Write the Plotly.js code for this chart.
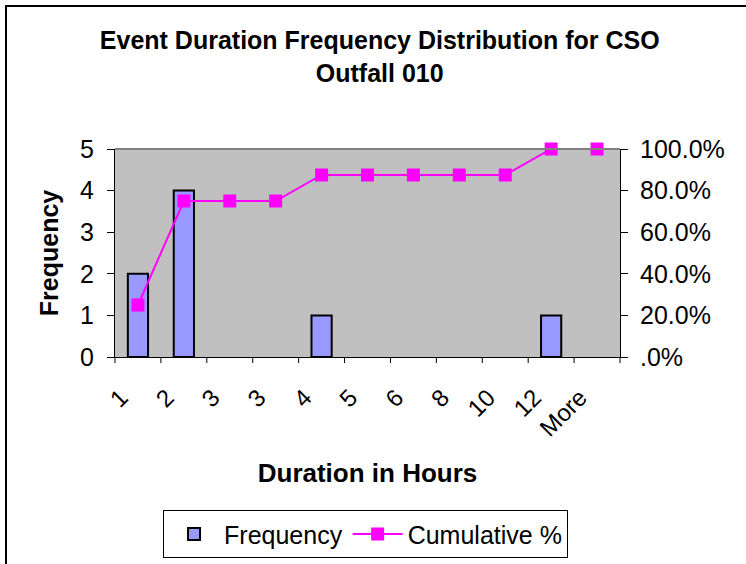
<!DOCTYPE html>
<html><head><meta charset="utf-8">
<script src="https://cdn.plot.ly/plotly-3.0.1.min.js"></script>
<style>
html,body{margin:0;padding:0;background:#fff;}
#wrap{position:relative;width:746px;height:564px;overflow:hidden;}
#chart{position:absolute;left:0;top:0;width:746px;height:564px;}
#frame{position:absolute;left:5px;top:5px;width:760px;height:600px;border-top:2px solid #000;border-left:2px solid #000;pointer-events:none;}
</style></head>
<body><div id="wrap"><div id="chart"></div><div id="frame"></div></div>
<script>
const categories = ['1','2','3','3','4','5','6','8','10','12','More'];
const frequency = [2,4,0,0,1,0,0,0,0,1,0];
const cumulative = [0.25,0.75,0.75,0.75,0.875,0.875,0.875,0.875,0.875,1.0,1.0];
const rightTickVals = [0,0.2,0.4,0.6,0.8,1.0];
const rightTickText = ['.0%','20.0%','40.0%','60.0%','80.0%','100.0%'];

const idx = categories.map((c,i)=>i);
const xRange = [-0.5, categories.length - 0.5];
const bounds = categories.concat(['']).map((c,i)=>i-0.5);
const outline = frequency.map(v => v > 0 ? 2 : 0);
const F = 'Liberation Sans, Arial, sans-serif';

const traces = [
 {type:'bar', name:'Frequency', x:idx, y:frequency, width:0.44,
  marker:{color:'#9999FF', line:{color:'#000', width:outline}}, xaxis:'x', yaxis:'y'},
 {type:'scatter', mode:'lines+markers', name:'Cumulative %', x:idx, y:cumulative, cliponaxis:false,
  line:{color:'#FF00FF', width:2}, marker:{symbol:'square', size:13, color:'#FF00FF'},
  xaxis:'x', yaxis:'y2'}
];

// category boundary tick marks under the x axis (paper coords derived from the axis range)
const tickShapes = bounds.map(b => {
  const px = (b - xRange[0]) / (xRange[1] - xRange[0]);
  return {type:'line', xref:'paper', yref:'paper', x0:px, x1:px, y0:0, y1:-6/208,
    line:{color:'#000', width:1}};
});

const layout = {
 width:746, height:564,
 margin:{l:115, r:126, t:149, b:207},
 paper_bgcolor:'#fff', plot_bgcolor:'#C0C0C0',
 font:{family:F, size:24, color:'#000'},
 title:{text:'<b>Event Duration Frequency Distribution for CSO<br>Outfall 010</b>',
  font:{family:F, size:25, color:'#000'}, x:0.509, xref:'container', xanchor:'center',
  y:0.913, yref:'container', yanchor:'top'},
 xaxis:{range:xRange, tickmode:'array', tickvals:idx, ticktext:categories,
  tickangle:-45, ticks:'', ticklabelshift:-17, ticklabelstandoff:16,
  showgrid:false, zeroline:false, showline:true, linecolor:'#000', linewidth:1,
  tickfont:{size:24},
  title:{text:'<b>Duration in Hours</b>', font:{size:26}, standoff:23}},
 yaxis:{range:[0,5], tickmode:'array', tickvals:[0,1,2,3,4,5], ticks:'outside', ticklen:7,
  tickcolor:'#000', showgrid:false, zeroline:false, showline:true, linecolor:'#000', linewidth:1,
  tickfont:{size:25}, ticklabelstandoff:8,
  title:{text:'<b>Frequency</b>', font:{size:25}, standoff:14}},
 yaxis2:{overlaying:'y', side:'right', range:[0,1], tickmode:'array', tickvals:rightTickVals,
  ticktext:rightTickText, ticks:'outside', ticklen:7, tickcolor:'#000', showgrid:false,
  zeroline:false, showline:true, linecolor:'#000', linewidth:1, tickfont:{size:25}, ticklabelstandoff:7},
 shapes:[{type:'line', xref:'paper', yref:'paper', x0:0, x1:1, y0:1, y1:1,
  line:{color:'#808080', width:2}}].concat(tickShapes),
 legend:{orientation:'h', x:0.49, xanchor:'center', xref:'container', y:0.01, yanchor:'bottom', yref:'container',
  bordercolor:'#000', borderwidth:1, bgcolor:'#fff', font:{size:25}, itemwidth:50},
 bargap:0, showlegend:true
};
Plotly.newPlot('chart', traces, layout, {displayModeBar:false, staticPlot:true});
</script></body></html>
